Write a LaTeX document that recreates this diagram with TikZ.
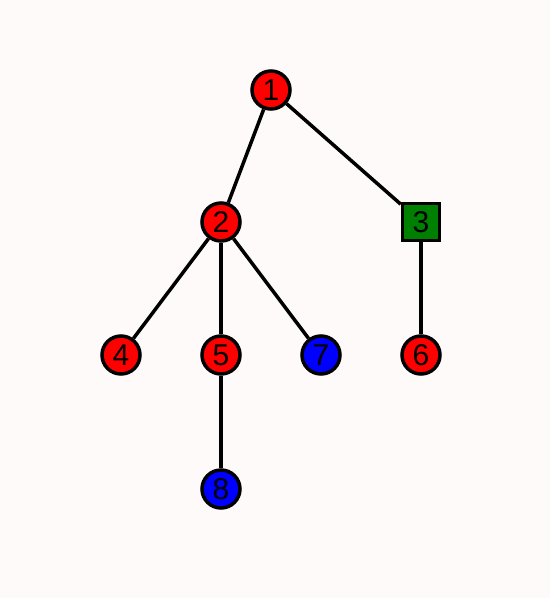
\documentclass[tikz,border=0pt]{standalone}
\usepackage{fontspec}
\setmainfont{Liberation Sans}
\definecolor{bg}{HTML}{FDFAF9}
\definecolor{nred}{HTML}{FF0000}
\definecolor{nblue}{HTML}{0000FF}
\definecolor{ngreen}{HTML}{008000}
\begin{document}
\begin{tikzpicture}[x=1pt,y=-1pt,
  vert/.style={circle,draw=black,line width=3.5pt,minimum size=38pt,inner sep=0pt,font=\fontsize{30}{30}\selectfont},
  sq/.style={rectangle,draw=black,line width=3.5pt,minimum size=37pt,inner sep=0pt,font=\fontsize{30}{30}\selectfont},
  edge/.style={line width=3.5pt,draw=black}]
\fill[bg] (0,0) rectangle (550,598);
\useasboundingbox (0,0) rectangle (550,598);
\node[vert,fill=nred] (n1) at (271,90) {1};
\node[vert,fill=nred] (n2) at (221,222) {2};
\node[sq,fill=ngreen] (n3) at (421,222) {3};
\node[vert,fill=nred] (n4) at (121,355) {4};
\node[vert,fill=nred] (n5) at (221,355) {5};
\node[vert,fill=nblue] (n7) at (321,355) {7};
\node[vert,fill=nred] (n6) at (421,355) {6};
\node[vert,fill=nblue] (n8) at (221,489) {8};
\draw[edge] (n1) -- (n2);
\draw[edge] (n1) -- (n3);
\draw[edge] (n2) -- (n4);
\draw[edge] (n2) -- (n5);
\draw[edge] (n2) -- (n7);
\draw[edge] (n3) -- (n6);
\draw[edge] (n5) -- (n8);
\end{tikzpicture}
\end{document}
